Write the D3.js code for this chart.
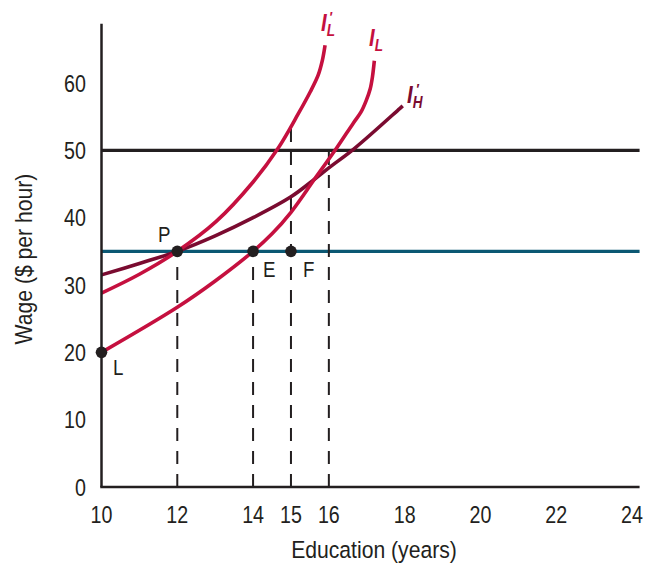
<!DOCTYPE html>
<html>
<head>
<meta charset="utf-8">
<script src="https://cdn.jsdelivr.net/npm/d3@7/dist/d3.min.js"></script>
<style>
  html, body { margin: 0; padding: 0; background: #fff; }
  svg { display: block; }
  text { font-family: "Liberation Sans", Arial, sans-serif; fill: #231f20; }
</style>
</head>
<body>
<svg id="chart" width="645" height="565"></svg>
<script>
// ---- data ----
const xTicks = [10, 12, 14, 15, 16, 18, 20, 22, 24];
const yTicks = [0, 10, 20, 30, 40, 50, 60];

// I_L (crimson)
const ilEdu  = [10, 12, 13, 14, 14.5, 15, 15.62, 16.2, 16.64, 16.85, 16.98, 17.09, 17.15, 17.2];
const ilWage = [20, 26.7, 30.6, 35, 37.6, 40.8, 45.7, 50.3, 54.0, 55.7, 57.3, 59.1, 60.9, 63.3];

// I_L' (crimson)
const ilpEdu  = [10, 11, 12, 13.02, 14.0, 14.66, 15.19, 15.51, 15.72, 15.83, 15.9];
const ilpWage = [28.8, 31.6, 35, 39.4, 45.3, 50.3, 55.4, 58.7, 61.2, 63.4, 65.6];

// I_H' (maroon)
const ihpEdu  = [10, 11, 12, 13, 14, 15, 15.62, 16, 16.68, 17.87, 17.95];
const ihpWage = [31.5, 33.2, 35, 37.3, 40.0, 43.1, 45.7, 47.4, 50.3, 56.2, 56.6];

// horizontal wage lines
const hLineWage = [50, 35];
const hLineColor = ["#231f20", "#0b5873"];

// dashed guide lines
const dashEdu = [12, 14, 15, 16];
const dashTop = [35, 35, 54.0, 50];

// labelled points
const pointName = ["L", "P", "E", "F"];
const pointEdu  = [10, 12, 14, 15];
const pointWage = [20, 35, 35, 35];

// ---- layout ----
const svg = d3.select("#chart");
const x = d3.scaleLinear().domain([10, 24]).range([101.5, 632]);
const y = d3.scaleLinear().domain([0, 60]).range([487, 83]);
const xEnd = 24.2, yTop = 68.8;

const CRIMSON = "#c5103f", MAROON = "#7a0b30", INK = "#231f20";

// condensed text helper
function ctext(px, py, str, size, sx, anchor, extra) {
  return svg.append("text")
    .attr("transform", `translate(${px},${py}) ${extra || ""} scale(${sx},1)`)
    .attr("text-anchor", anchor || "start")
    .attr("font-size", size).text(str);
}

// horizontal lines
hLineWage.forEach((w, i) => {
  svg.append("line")
    .attr("x1", x(10)).attr("x2", x(xEnd))
    .attr("y1", y(w)).attr("y2", y(w))
    .attr("stroke", hLineColor[i]).attr("stroke-width", 3.2);
});

// dashed guides
dashEdu.forEach((e, i) => {
  svg.append("line")
    .attr("x1", x(e)).attr("x2", x(e))
    .attr("y1", y(0)).attr("y2", y(dashTop[i]))
    .attr("stroke", INK).attr("stroke-width", 2)
    .attr("stroke-dasharray", "13,10");
});

// curves
const line = d3.line().x(d => x(d[0])).y(d => y(d[1])).curve(d3.curveCatmullRom.alpha(0.5));
const curves = [
  { e: ihpEdu, w: ihpWage, c: MAROON },
  { e: ilpEdu, w: ilpWage, c: CRIMSON },
  { e: ilEdu,  w: ilWage,  c: CRIMSON }
];
curves.forEach(cv => {
  svg.append("path")
    .attr("d", line(cv.e.map((e, i) => [e, cv.w[i]])))
    .attr("fill", "none").attr("stroke", cv.c)
    .attr("stroke-width", 3.6).attr("stroke-linecap", "butt");
});

// axes
svg.append("line").attr("x1", x(10)).attr("x2", x(10))
  .attr("y1", y(yTop)).attr("y2", y(0))
  .attr("stroke", INK).attr("stroke-width", 2.5);
svg.append("line").attr("x1", x(10) - 1.25).attr("x2", x(xEnd))
  .attr("y1", y(0)).attr("y2", y(0))
  .attr("stroke", INK).attr("stroke-width", 2.5);

// tick labels
xTicks.forEach(d => ctext(x(d), 523, d, 24, 0.82, "middle"));
yTicks.forEach(d => ctext(86, y(d) + 8.6, d, 24, 0.82, "end"));

// axis titles
ctext(374, 558, "Education (years)", 23.5, 0.9, "middle");
ctext(32, 259, "Wage ($ per hour)", 23.5, 0.9, "middle", "rotate(-90)");

// points
svg.selectAll(".pt").data(pointName).enter().append("circle")
  .attr("cx", (d, i) => x(pointEdu[i])).attr("cy", (d, i) => y(pointWage[i]))
  .attr("r", 5.8).attr("fill", INK);

const pointLabelPos = { L: [113, 375], P: [158, 242], E: [263, 277], F: [303, 277] };
pointName.forEach(n => ctext(pointLabelPos[n][0], pointLabelPos[n][1], n, 22, 0.85, "start"));

// curve labels
function curveLabel(xp, yp, sub, prime, color, subW) {
  const t = svg.append("text")
    .attr("transform", `translate(${xp},${yp}) scale(0.85,1)`)
    .attr("font-size", 24).attr("font-weight", "bold").attr("font-style", "italic")
    .style("fill", color);
  t.append("tspan").text("I");
  t.append("tspan").attr("font-size", 16).attr("dy", 5).text(sub);
  if (prime) {
    t.append("tspan").attr("font-size", 15).attr("dx", -subW).attr("dy", -14).text("\u2032");
  }
}
curveLabel(321, 31, "L", true, CRIMSON, 7);
curveLabel(369, 46, "L", false, CRIMSON, 7);
curveLabel(407, 103, "H", true, MAROON, 8);
</script>
</body>
</html>
